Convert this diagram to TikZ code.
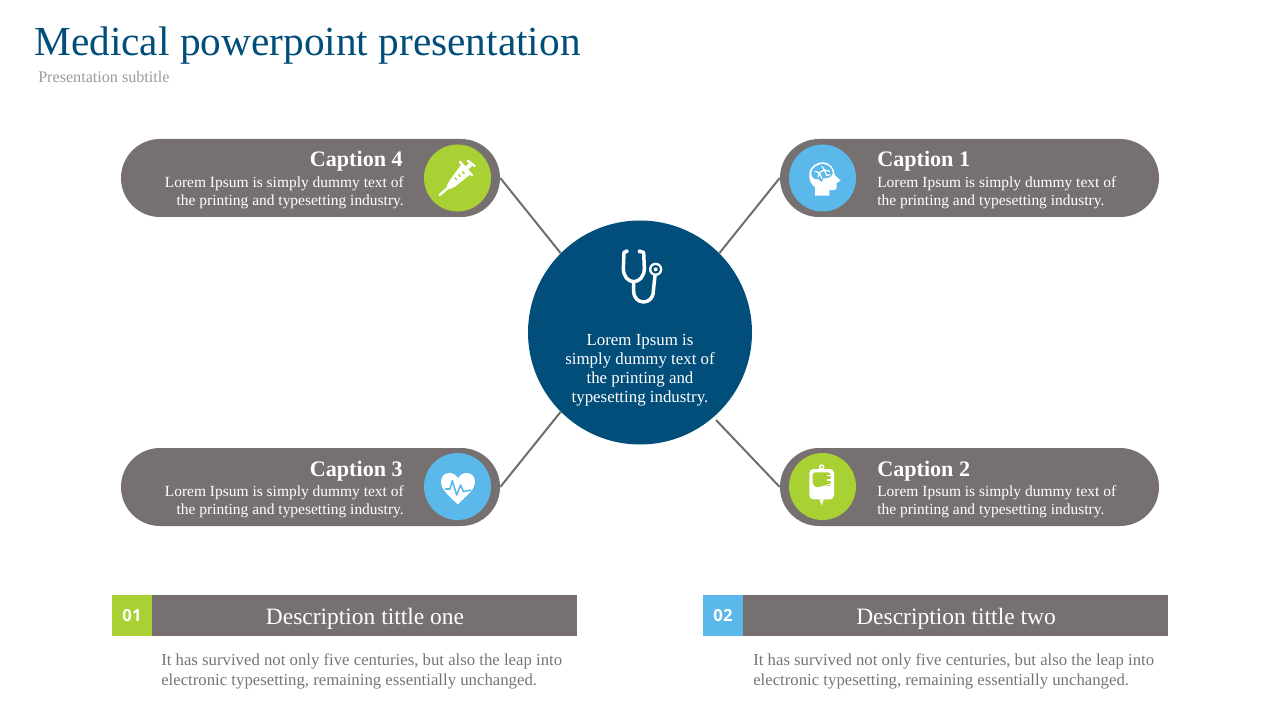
\documentclass[tikz,border=0pt]{standalone}
\usepackage{fontspec}
\setmainfont{Liberation Serif}
\newfontfamily\numfont{Open Sans}
\usetikzlibrary{shapes.misc}

\definecolor{navy}{HTML}{024E7A}
\definecolor{pill}{HTML}{767170}
\definecolor{limeg}{HTML}{A9D134}
\definecolor{skyb}{HTML}{5AB8EA}
\definecolor{linkg}{HTML}{6E6E6E}
\definecolor{subg}{HTML}{9A9A9A}
\definecolor{bodyg}{HTML}{757575}

\tikzset{
    capPill/.style={rounded rectangle, fill=pill, minimum width=284.25pt, minimum height=58.5pt, inner sep=0pt},
    iconDisc/.style={circle, minimum size=50.25pt, inner sep=0pt},
    capHead/.style={text=white, inner sep=0pt, font=\fontsize{16.6}{18}\selectfont\bfseries},
    capBody/.style={text=white, inner sep=0pt, font=\fontsize{11.6}{13.5}\selectfont},
    descBar/.style={fill=pill, minimum width=318.75pt, minimum height=30.75pt, inner sep=0pt},
    descHead/.style={text=white, inner sep=0pt, font=\fontsize{17.6}{20}\selectfont},
    numBox/.style={minimum width=30pt, minimum height=30.75pt, inner sep=0pt, text=white, font=\numfont\fontsize{12.5}{15}\selectfont\bfseries},
    descBody/.style={text=bodyg, inner sep=0pt, align=left, font=\fontsize{12.56}{15}\selectfont},
    link/.style={draw=linkg, line width=1.5pt},
    tube/.style={draw=white, line width=2.6pt, line cap=round, line join=round, fill=none}
}

\begin{document}
\begin{tikzpicture}[x=.75pt,y=-.75pt]
    \useasboundingbox (0,0) rectangle (1280,720);

    \node[anchor=base west, inner sep=0pt, text=navy, font=\fontsize{31}{36}\selectfont] (title) at (34,56) {Medical powerpoint presentation};
    \node[anchor=base west, inner sep=0pt, text=subg, font=\fontsize{12.1}{14}\selectfont] (subtitle) at (38,82.5) {Presentation subtitle};

    \node[capPill] (pillFour) at (310.5,178) {};
    \node[capPill] (pillOne) at (969.5,178) {};
    \node[capPill] (pillThree) at (310.5,487) {};
    \node[capPill] (pillTwo) at (969.5,487) {};

    \node[circle, fill=navy, minimum size=168pt, inner sep=0pt] (hub) at (640,332.5) {};
    \coordinate (gapTwo) at (716,420);

    \draw[link] (pillFour.east) -- (hub.135);
    \draw[link] (pillOne.west) -- (hub.45);
    \draw[link] (pillThree.east) -- (hub.225);
    \draw[link] (pillTwo.west) -- (gapTwo);

    \node[iconDisc, fill=limeg] (iconFour) at (457.5,178) {};
    \node[iconDisc, fill=skyb] (iconOne) at (822.5,178) {};
    \node[iconDisc, fill=skyb] (iconThree) at (457.5,486.5) {};
    \node[iconDisc, fill=limeg] (iconTwo) at (822.5,486.5) {};

    \node[capHead, anchor=base east] (capFour) at (403,167) {Caption 4};
    \node[capBody, anchor=east, align=right] (bodyFour) at (404,193) {Lorem Ipsum is simply dummy text of\\the printing and typesetting industry.};
    \node[capHead, anchor=base west] (capOne) at (877,167) {Caption 1};
    \node[capBody, anchor=west, align=left] (bodyOne) at (877,193) {Lorem Ipsum is simply dummy text of\\the printing and typesetting industry.};
    \node[capHead, anchor=base east] (capThree) at (403,476) {Caption 3};
    \node[capBody, anchor=east, align=right] (bodyThree) at (404,502) {Lorem Ipsum is simply dummy text of\\the printing and typesetting industry.};
    \node[capHead, anchor=base west] (capTwo) at (877,476) {Caption 2};
    \node[capBody, anchor=west, align=left] (bodyTwo) at (877,502) {Lorem Ipsum is simply dummy text of\\the printing and typesetting industry.};

    \node[text=white, inner sep=0pt, align=center, font=\fontsize{12.65}{14.25}\selectfont] (hubText) at (640,370.5) {Lorem Ipsum is\\simply dummy text of\\the printing and\\typesetting industry.};

    % stethoscope
    \begin{scope}[shift={(600,235)},x=.25pt,y=-.25pt]
        \draw[tube] (80,49) -- (72,52) -- (70,100) .. controls (70,125) and (85,140) .. (101,140) .. controls (117,140) and (133,125) .. (133,100) -- (131,52) -- (119,49);
        \draw[tube] (101,140) -- (101,168) .. controls (101,212) and (160,212) .. (160,168) -- (165,122);
        \fill[white] (80,49) circle (6) (119,49) circle (6);
        \fill[white] (167,103) circle (20);
        \fill[navy] (167,103) circle (13);
        \fill[white] (167,103) circle (6);
    \end{scope}

    % syringe
    \begin{scope}[shift={(400,130)},x=.25pt,y=-.25pt]
        \draw[white, line width=1.8pt, line cap=round] (119,195) -- (150,168);
        \fill[white] (140,168) -- (150,150) -- (185,102) -- (212,132) -- (165,170) -- (148,178) -- cycle;
        \draw[white, line width=1.8pt, line cap=round] (180,96) -- (216,136);
        \draw[white, line width=3pt] (198,116) -- (212,104);
        \draw[white, line width=1.8pt, line cap=round] (203,92) -- (224,108);
        \draw[limeg, line width=1pt] (164,143) -- (171,150) (175,133) -- (182,140) (186,124) -- (193,131);
    \end{scope}

    % head and brain
    \begin{scope}[shift={(770,130)},x=.25pt,y=-.25pt]
        \fill[white] (135,197) -- (135,172) .. controls (120,160) and (116,145) .. (118,130) .. controls (121,108) and (140,97) .. (158,97) .. controls (180,97) and (193,115) .. (194,135) -- (212,152) -- (200,159) -- (200,175) .. controls (199,180) and (195,181) .. (178,180) -- (178,197) -- cycle;
        \fill[skyb] (124,128) .. controls (125,112) and (145,102) .. (158,102) .. controls (176,102) and (189,116) .. (188,130) .. controls (187,142) and (170,146) .. (160,144) -- (155,156) -- (147,148) .. controls (132,150) and (123,140) .. (124,128) -- cycle;
        \draw[white, line width=.9pt] (134,124) -- (148,128) -- (144,142) (148,128) -- (163,120) -- (180,124) (163,120) -- (156,109) (163,120) -- (170,136) -- (182,134) (148,128) -- (156,146);
    \end{scope}

    % heart
    \begin{scope}[shift={(400,440)},x=.25pt,y=-.25pt]
        \fill[white] (173,193) .. controls (150,170) and (123,150) .. (123,125) .. controls (123,108) and (135,99) .. (148,99) .. controls (160,99) and (169,106) .. (174,114) .. controls (179,106) and (188,99) .. (200,99) .. controls (214,99) and (225,109) .. (225,125) .. controls (225,150) and (196,170) .. (173,193) -- cycle;
        \draw[skyb, line width=1.2pt, line join=round] (135,147) -- (150,147) -- (157,122) -- (170,165) -- (182,135) -- (190,155) -- (213,150);
    \end{scope}

    % drip bag
    \begin{scope}[shift={(770,440)},x=.25pt,y=-.25pt]
        \draw[white, line width=1pt] (155,81) circle (6);
        \fill[white, rounded corners=3pt] (118,87) rectangle (192,178);
        \fill[white] (148,178) -- (162,178) -- (158,188) -- (155,196) -- (152,188) -- cycle;
        \fill[limeg, rounded corners=2pt] (128,97) -- (182,97) -- (182,142) .. controls (165,130) and (145,148) .. (128,134) -- cycle;
        \draw[white, line width=1pt] (172,107) -- (184,107) (172,120) -- (184,120) (172,133) -- (184,133);
    \end{scope}

    \node[descBar] (barOne) at (364.5,615.5) {};
    \node[fill=limeg, numBox] (numOne) at (132,615.5) {\raisebox{.6pt}{01}};
    \node[descBar] (barTwo) at (955.5,615.5) {};
    \node[fill=skyb, numBox] (numTwo) at (723,615.5) {\raisebox{.6pt}{02}};

    \node[descHead] (titleOne) at (365,619) {Description tittle one};
    \node[descHead] (titleTwo) at (956,619) {Description tittle two};

    \node[descBody, anchor=north west] (descOne) at (161,653) {It has survived not only five centuries, but also the leap into\\electronic typesetting, remaining essentially unchanged.};
    \node[descBody, anchor=north west] (descTwo) at (753,653) {It has survived not only five centuries, but also the leap into\\electronic typesetting, remaining essentially unchanged.};
\end{tikzpicture}
\end{document}
